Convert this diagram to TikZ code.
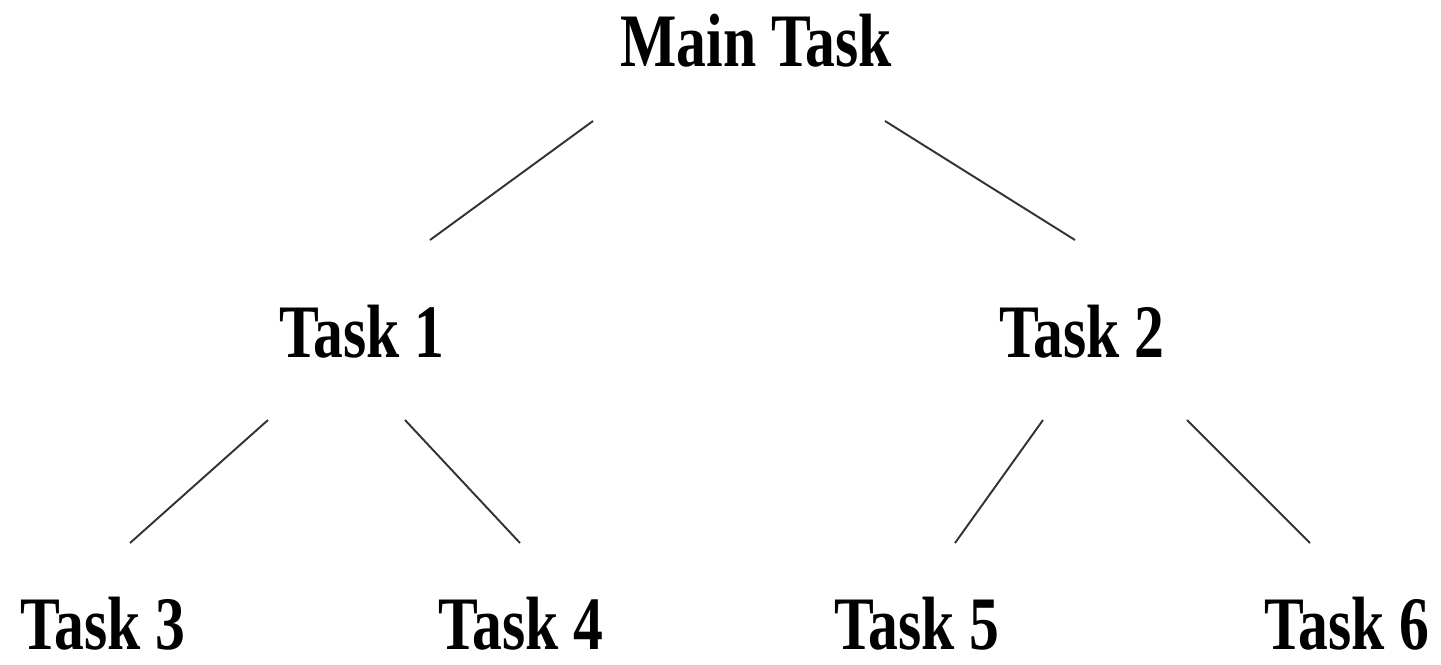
\documentclass[tikz,border=0pt]{standalone}
\usepackage{fontspec}
\setmainfont{Liberation Serif}
\usepackage{graphicx}
\begin{document}
\begin{tikzpicture}[x=0.02cm,y=-0.02cm,
  task/.style={anchor=base,inner sep=0pt,font=\fontsize{43}{43}\selectfont\bfseries},
  link/.style={draw=black!80,line width=1.1pt}]
\useasboundingbox (0,0) rectangle (1441,664);
\node[task] (main) at (756,66) {\scalebox{0.79}[1]{Main Task}};
\node[task] (t1) at (362,357) {\scalebox{0.79}[1]{Task 1}};
\node[task] (t2) at (1082,357) {\scalebox{0.79}[1]{Task 2}};
\node[task] (t3) at (103,649) {\scalebox{0.79}[1]{Task 3}};
\node[task] (t4) at (521,649) {\scalebox{0.79}[1]{Task 4}};
\node[task] (t5) at (917,649) {\scalebox{0.79}[1]{Task 5}};
\node[task] (t6) at (1347,649) {\scalebox{0.79}[1]{Task 6}};
\coordinate (m1) at (593,121);
\coordinate (m2) at (885,121);
\coordinate (a1) at (430,240);
\coordinate (a2) at (1075,240);
\coordinate (b1) at (268,420);
\coordinate (b2) at (405,420);
\coordinate (b3) at (1043,420);
\coordinate (b4) at (1187,420);
\coordinate (c3) at (130,543);
\coordinate (c4) at (520,543);
\coordinate (c5) at (955,543);
\coordinate (c6) at (1310,543);
\draw[link] (m1) -- (a1);
\draw[link] (m2) -- (a2);
\draw[link] (b1) -- (c3);
\draw[link] (b2) -- (c4);
\draw[link] (b3) -- (c5);
\draw[link] (b4) -- (c6);
\end{tikzpicture}
\end{document}
